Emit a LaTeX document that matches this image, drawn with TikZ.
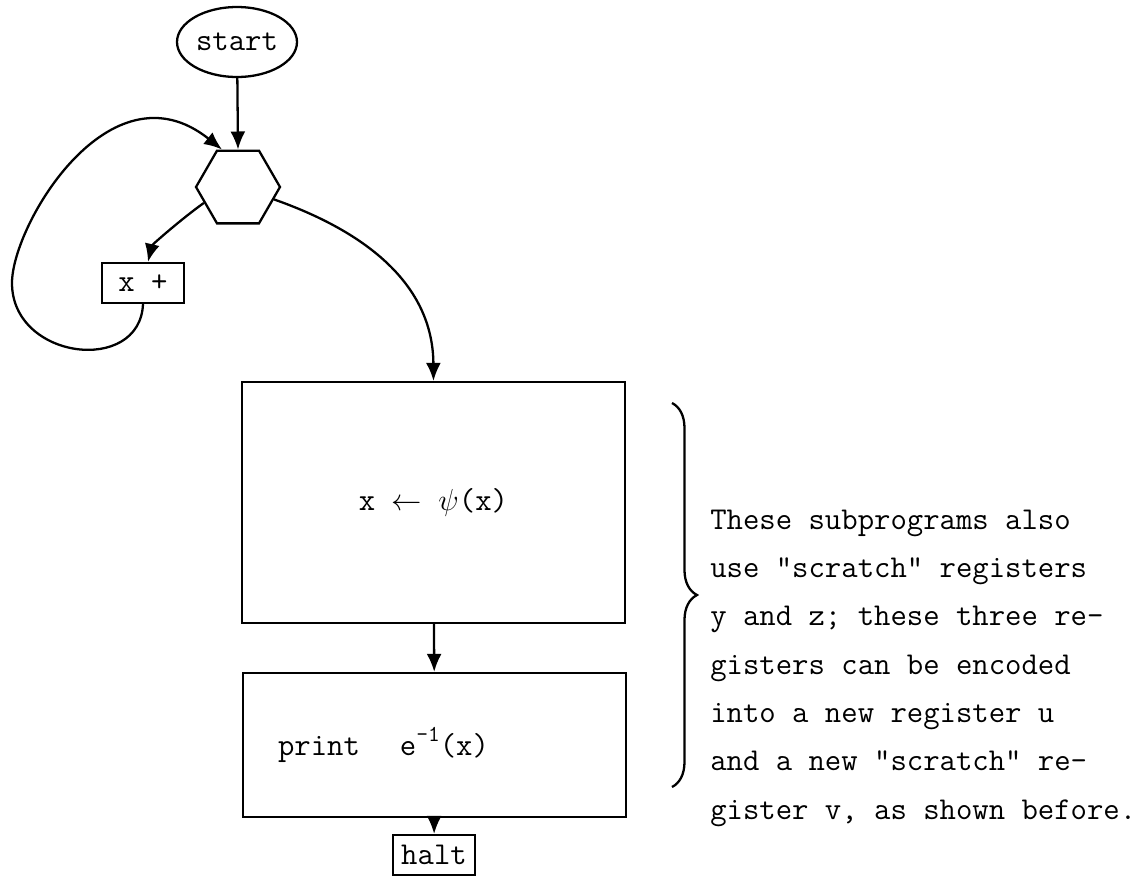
\documentclass[tikz,border=0pt]{standalone}
\usepackage{tikz}
\usetikzlibrary{shapes.geometric, arrows.meta, positioning, decorations.pathreplacing}
\newcommand{\typefont}{\ttfamily\fontsize{18.1pt}{27.5pt}\selectfont}
\newcommand{\supone}{\raisebox{8pt}{\fontsize{13pt}{13pt}\selectfont -1}}

\begin{document}
\begin{tikzpicture}[
    x=0.02cm, y=-0.02cm,
    every node/.style={font=\typefont},
    term/.style={draw, ellipse, minimum width=2.4cm, minimum height=1.4cm, inner sep=0pt, line width=1.3pt},
    test/.style={draw, regular polygon, regular polygon sides=6, minimum size=1.68cm, inner sep=0pt, line width=1.3pt},
    smallbox/.style={draw, rectangle, minimum width=1.64cm, minimum height=0.8cm, inner sep=0pt, line width=1.3pt},
    procbox/.style={draw, rectangle, minimum width=7.66cm, line width=1.3pt},
    arr/.style={-{Latex[length=3.6mm,width=3mm]}, line width=1.3pt},
    bracelbl/.style={decorate, decoration={brace, amplitude=0.5cm}, line width=1.3pt}
]
\useasboundingbox (0,0) rectangle (1137,877);

% ===== Inicio y bucle =====
\node[term] (start) at (237,42) {start};
\node[test] (hex) at (238,187) {};
\node[smallbox] (xp) at (143,283) {x +};
\coordinate (loopw) at (12,283);

% ===== Subprogramas =====
\node[procbox, minimum height=4.82cm] (psi) at (433.5,502.5) {x $\leftarrow$ $\psi$(x)};
\node[procbox, minimum height=2.88cm, inner xsep=0.7cm, text width=6.26cm, align=left] (prt) at (434.5,745) {print\hspace{0.8cm}e\supone(x)};
\node[smallbox] (halt) at (434,855) {halt};

% ===== Conexiones =====
\draw[arr] (start) -- (hex.north);
\draw[arr] (hex.205) .. controls (180,220) and (152,245) .. ([xshift=0.1cm]xp.north);
\draw[arr] (xp.south) .. controls (140,375) and (12,360) .. (loopw)
    .. controls (12,225) and (110,60) .. ([xshift=-0.32cm]hex.north);
\draw[arr] (hex.-19) .. controls (375,235) and (433,290) .. (psi.north);
\draw[arr] (psi) -- (prt);
\draw[arr] (prt) -- (halt);

% ===== Nota con llave =====
\coordinate (bt) at (672,403);
\coordinate (bb) at (672,787);
\draw[bracelbl] (bt) -- (bb);
\node[anchor=west, align=left, inner sep=0pt] (note) at (710,668) {These subprograms also\\use "scratch" registers\\y and z; these three re-\\gisters can be encoded\\into a new register u\\and a new "scratch" re-\\gister v, as shown before.};

\end{tikzpicture}
\end{document}
